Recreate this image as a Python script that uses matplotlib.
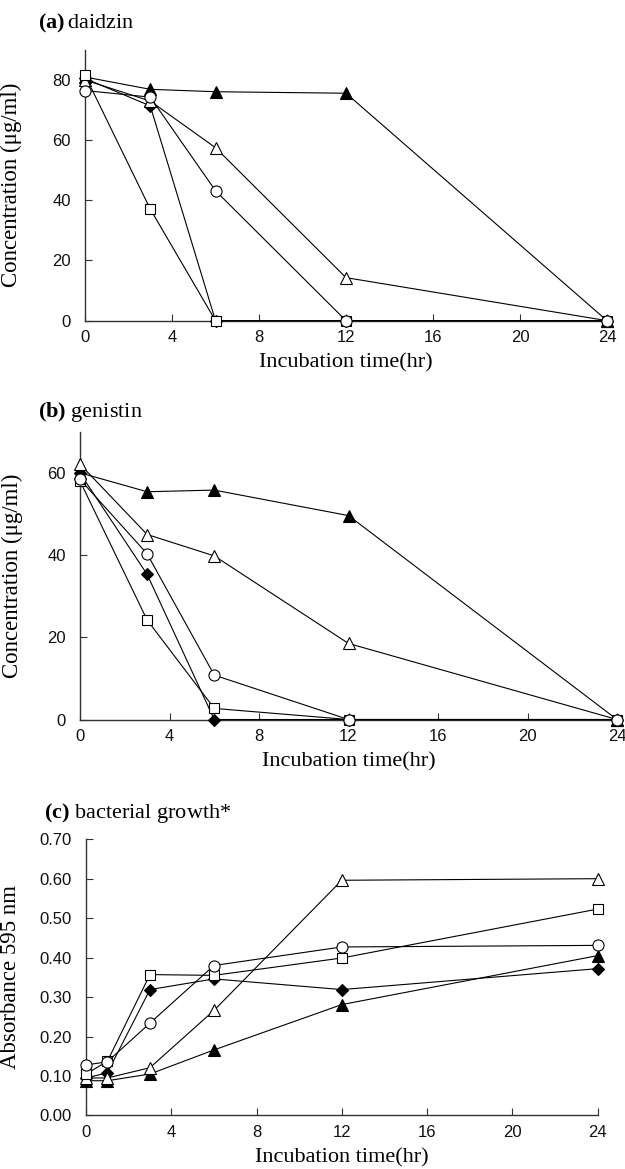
import matplotlib
matplotlib.use('Agg')
import matplotlib.pyplot as plt

plt.rcParams['mathtext.fontset'] = 'custom'
plt.rcParams['mathtext.rm'] = 'Liberation Serif'
plt.rcParams['mathtext.bf'] = 'Liberation Serif:bold'

# --- data ---
t_conc = [0, 3, 6, 12, 24]
t_growth = [0, 1, 3, 6, 12, 24]

daidzin_diamond = [80.5, 71.4, 0, 0, 0]
daidzin_tri_filled = [81, 76.9, 76.1, 75.6, 0]
daidzin_tri_open = [80, 73, 57.5, 14.3, 0]
daidzin_square = [81.6, 37.1, 0, 0, 0]
daidzin_circle = [76.5, 74.3, 43.2, 0, 0]

genistin_diamond = [59.9, 35.3, 0, 0, 0]
genistin_tri_filled = [60, 55.4, 55.8, 49.6, 0]
genistin_tri_open = [62.1, 45.0, 39.8, 18.5, 0]
genistin_square = [58.0, 24.2, 2.7, 0, 0]
genistin_circle = [58.4, 40.3, 10.8, 0, 0]

growth_diamond = [0.095, 0.108, 0.319, 0.346, 0.319, 0.372]
growth_tri_filled = [0.088, 0.088, 0.105, 0.166, 0.281, 0.405]
growth_tri_open = [0.095, 0.095, 0.121, 0.266, 0.596, 0.600]
growth_square = [0.105, 0.137, 0.357, 0.355, 0.399, 0.523]
growth_circle = [0.128, 0.136, 0.234, 0.380, 0.427, 0.431]

x_ticks = [0, 4, 8, 12, 16, 20, 24]

serif = 'Liberation Serif'
sans = 'Liberation Sans'

styles = [
    dict(marker='D', ms=6.5, mfc='black'),
    dict(marker='^', ms=8.5, mfc='black'),
    dict(marker='^', ms=8.5, mfc='white'),
    dict(marker='s', ms=7.5, mfc='white'),
    dict(marker='o', ms=8, mfc='white'),
]


def draw_panel(ax, x, series, ylim, yticks, ylabel, yfmt, label_x):
    for y, st in zip(series, styles):
        ax.plot(x, y, color='black', lw=0.8, mec='black', mew=0.8,
                clip_on=False, zorder=3, **st)
    ax.set_xlim(0, 24)
    ax.set_ylim(*ylim)
    ax.set_xticks(x_ticks)
    ax.set_yticks(yticks)
    ax.set_yticklabels([yfmt.format(v) for v in yticks])
    for s in ['top', 'right']:
        ax.spines[s].set_visible(False)
    for s in ['left', 'bottom']:
        ax.spines[s].set_linewidth(1.0)
        ax.spines[s].set_color('#333333')
    ax.tick_params(direction='in', length=5, width=0.8, color='#333333')
    ax.tick_params(axis='x', pad=7)
    ax.tick_params(axis='y', pad=10)
    for lab in ax.get_xticklabels() + ax.get_yticklabels():
        lab.set_fontfamily(sans)
        lab.set_fontsize(12)
        lab.set_color('#111111')
    ax.set_xlabel('Incubation time(hr)', fontfamily=serif, fontsize=16, labelpad=6)
    ax.set_ylabel(ylabel, fontfamily=serif, fontsize=16.5)
    ax.yaxis.set_label_coords(label_x, 0.5)


fig = plt.figure(figsize=(6.25, 11.69), dpi=100)

ax_a = fig.add_axes([0.136, 0.7257, 0.8352, 0.2316])
draw_panel(ax_a, t_conc,
           [daidzin_diamond, daidzin_tri_filled, daidzin_tri_open,
            daidzin_square, daidzin_circle],
           (0, 90), [0, 20, 40, 60, 80], 'Concentration (μg/ml)', '{:g}', -0.121)

ax_b = fig.add_axes([0.128, 0.3845, 0.8592, 0.2462])
draw_panel(ax_b, t_conc,
           [genistin_diamond, genistin_tri_filled, genistin_tri_open,
            genistin_square, genistin_circle],
           (0, 70), [0, 20, 40, 60], 'Concentration (μg/ml)', '{:g}', -0.106)

ax_c = fig.add_axes([0.1376, 0.0458, 0.8186, 0.2363])
draw_panel(ax_c, t_growth,
           [growth_diamond, growth_tri_filled, growth_tri_open,
            growth_square, growth_circle],
           (0, 0.70), [0, 0.1, 0.2, 0.3, 0.4, 0.5, 0.6, 0.7],
           'Absorbance 595 nm', '{:.2f}', -0.128)

fig.text(38 / 625, 1 - 23 / 1169, r'$\mathbf{(a)}\,$daidzin', fontfamily=serif,
         fontsize=16, va='center', ha='left')
fig.text(38 / 625, 1 - 412 / 1169, r'$\mathbf{(b)}$ genistin', fontfamily=serif,
         fontsize=16, va='center', ha='left')
fig.text(44 / 625, 1 - 813 / 1169, r'$\mathbf{(c)}$ bacterial growth*', fontfamily=serif,
         fontsize=16, va='center', ha='left')

fig.savefig('out.png', dpi=100)
